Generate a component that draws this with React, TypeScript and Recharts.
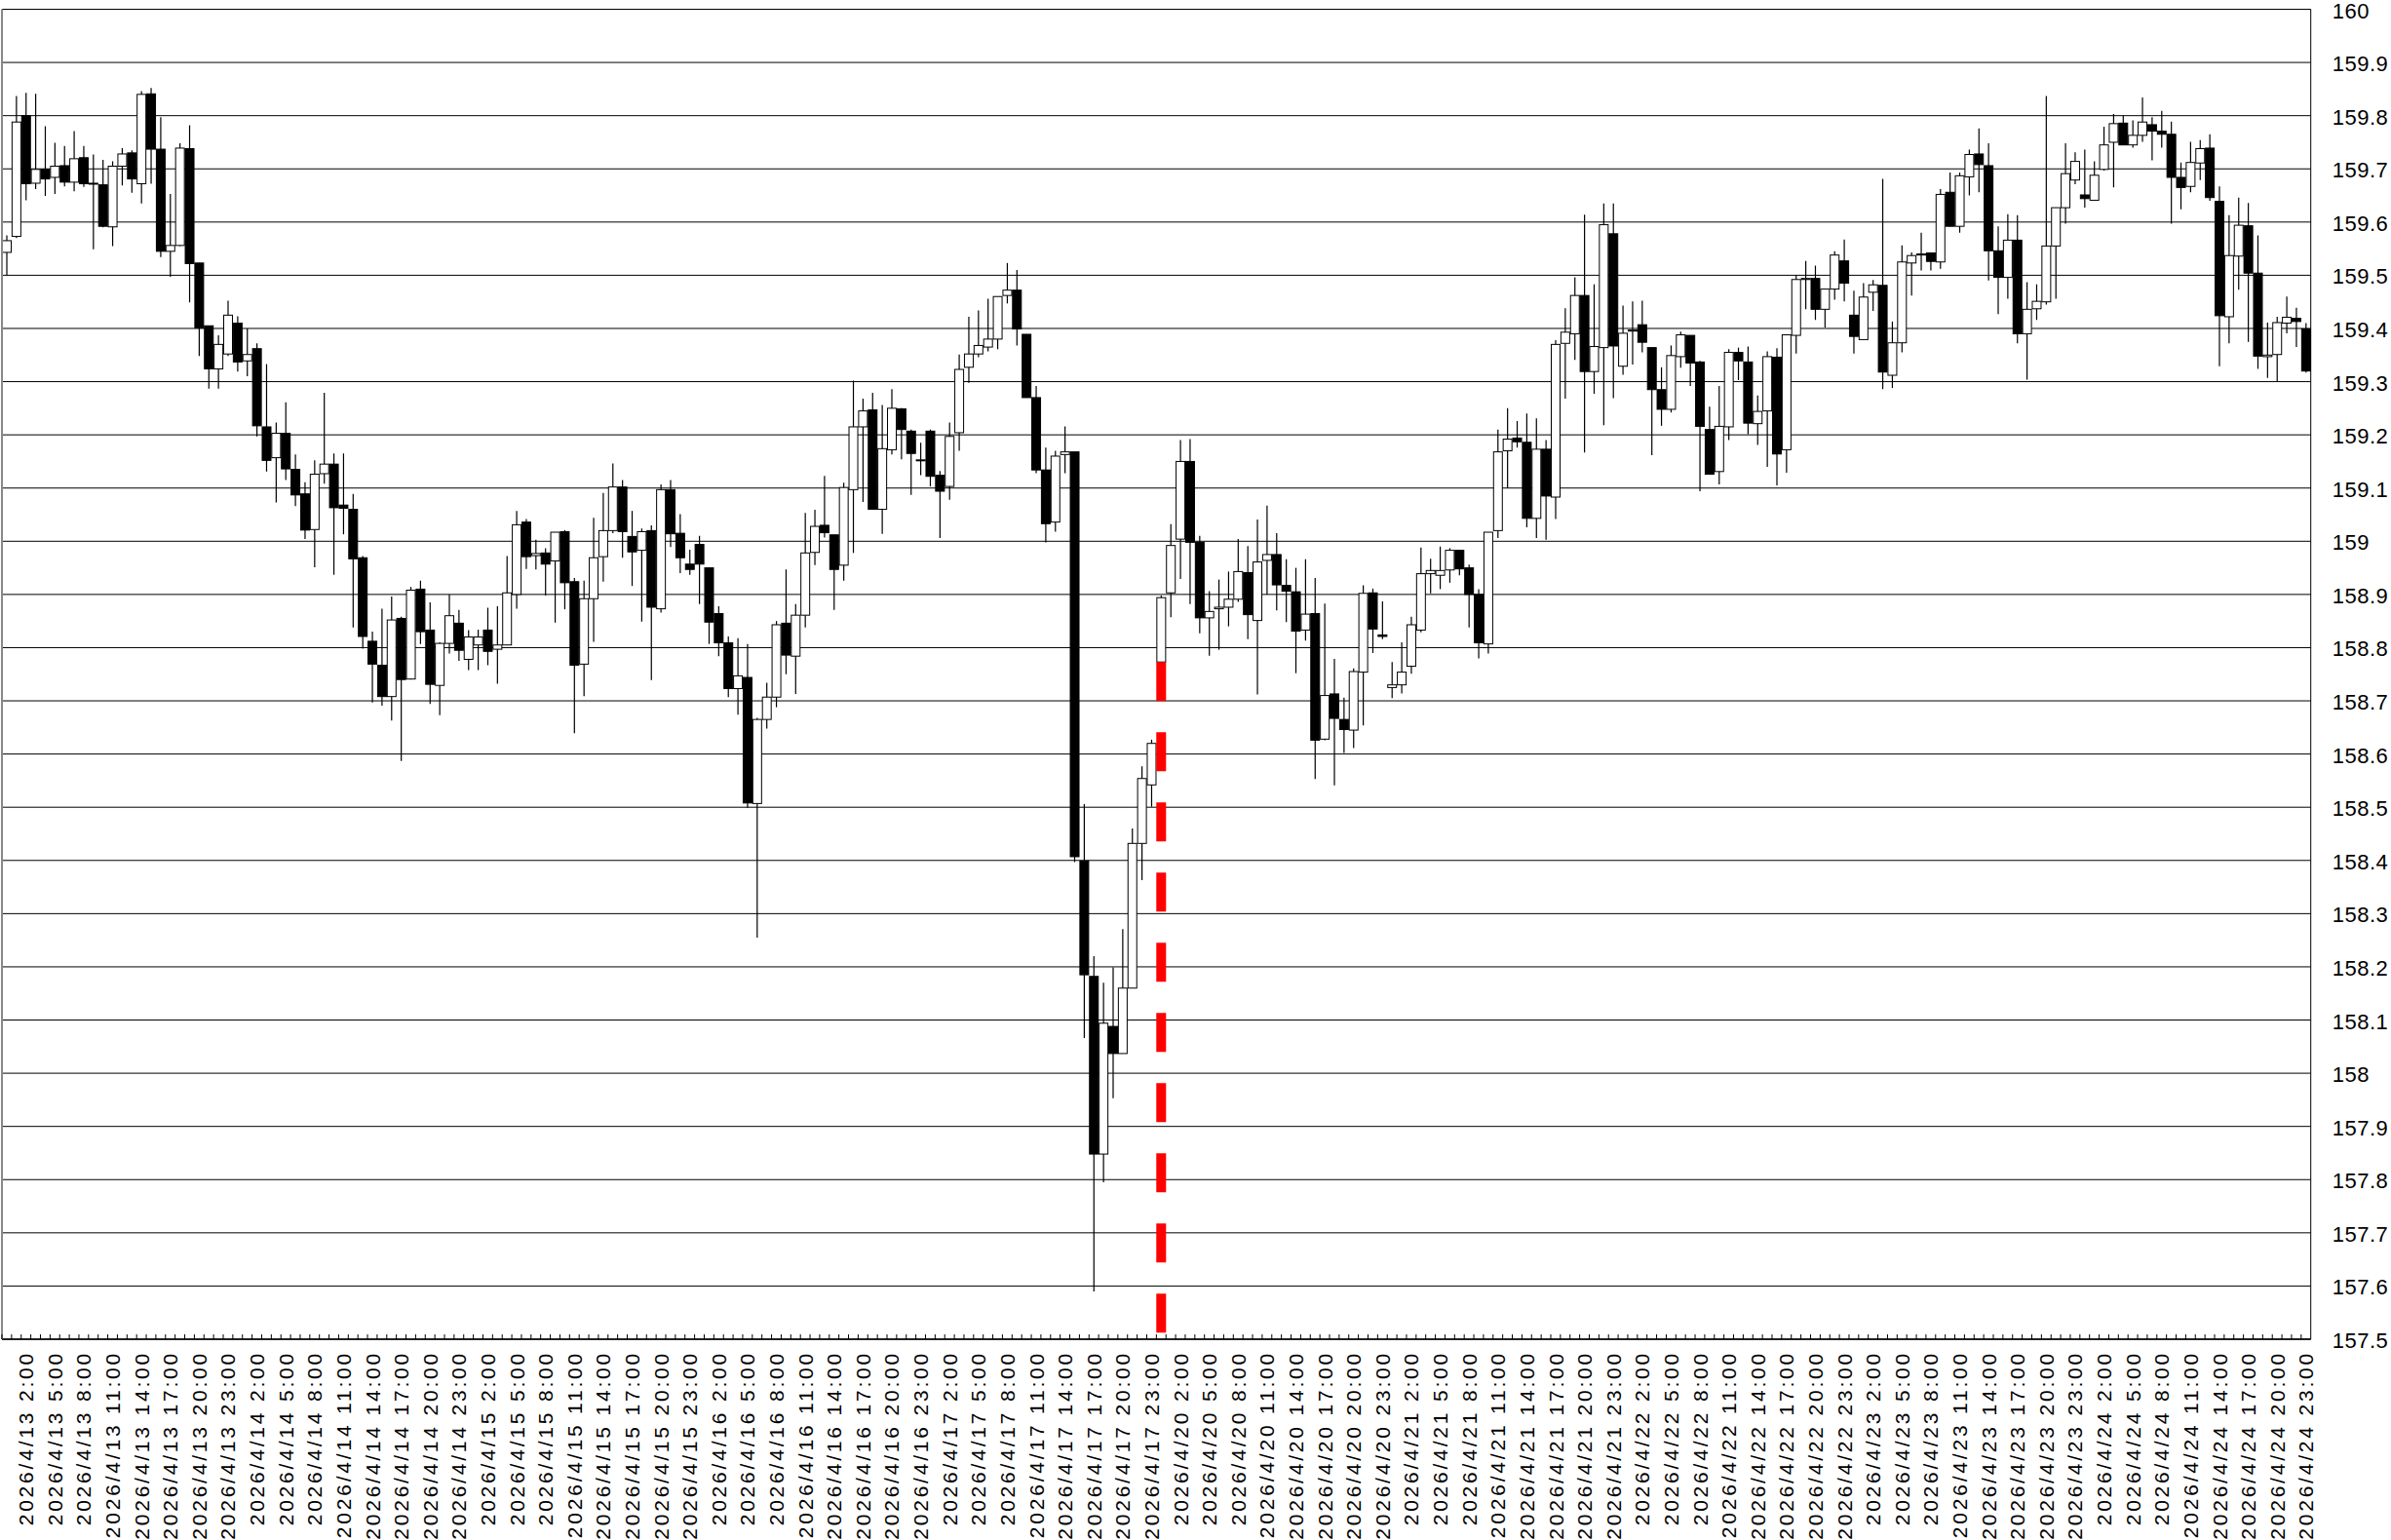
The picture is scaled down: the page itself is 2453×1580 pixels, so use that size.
import { ComposedChart, Bar, XAxis, YAxis, CartesianGrid, ReferenceLine } from "recharts";

const DAYS = ["4/13", "4/14", "4/15", "4/16", "4/17", "4/20", "4/21", "4/22", "4/23", "4/24"];

// hourly OHLC, one line per day (24 candles)
const OPEN = [
  159.543, 159.573, 159.800, 159.673, 159.699, 159.684, 159.706, 159.675, 159.721, 159.673, 159.670, 159.591, 159.705, 159.730, 159.672, 159.841, 159.737, 159.545, 159.556, 159.738, 159.523, 159.405, 159.324, 159.352,
  159.410, 159.339, 159.362, 159.215, 159.157, 159.203, 159.135, 159.089, 159.022, 159.127, 159.145, 159.068, 159.060, 158.969, 158.812, 158.767, 158.708, 158.855, 158.741, 158.910, 158.833, 158.729, 158.808, 158.846,
  158.778, 158.805, 158.833, 158.797, 158.805, 158.900, 159.036, 158.973, 158.978, 158.963, 159.018, 158.924, 158.769, 158.892, 158.971, 159.020, 159.102, 159.009, 158.983, 159.020, 158.873, 159.097, 159.015, 158.957,
  158.994, 158.950, 158.864, 158.809, 158.723, 158.744, 158.507, 158.665, 158.707, 158.846, 158.784, 158.861, 158.979, 159.030, 159.012, 158.955, 159.097, 159.215, 159.247, 159.060, 159.172, 159.249, 159.207, 159.153,
  159.207, 159.124, 159.103, 159.204, 159.327, 159.352, 159.365, 159.380, 159.462, 159.472, 159.389, 159.270, 159.134, 159.036, 159.163, 159.168, 158.399, 158.182, 157.848, 158.088, 158.037, 158.160, 158.432, 158.542,
  158.773, 158.903, 159.004, 159.150, 158.998, 158.856, 158.873, 158.876, 158.891, 158.941, 158.851, 158.964, 158.975, 158.917, 158.905, 158.833, 158.864, 158.628, 158.713, 158.665, 158.645, 158.754, 158.903, 158.824,
  158.725, 158.730, 158.765, 158.833, 158.939, 158.936, 158.946, 158.983, 158.950, 158.900, 158.807, 159.020, 159.170, 159.194, 159.186, 159.043, 159.173, 159.083, 159.372, 159.390, 159.462, 159.319, 159.364, 159.578,
  159.329, 159.395, 159.407, 159.364, 159.285, 159.248, 159.347, 159.387, 159.337, 159.210, 159.131, 159.215, 159.355, 159.337, 159.221, 159.245, 159.346, 159.172, 159.387, 159.492, 159.494, 159.436, 159.474, 159.527,
  159.425, 159.379, 159.468, 159.481, 159.312, 159.373, 159.523, 159.538, 159.542, 159.525, 159.656, 159.592, 159.685, 159.728, 159.706, 159.546, 159.496, 159.566, 159.390, 159.437, 159.450, 159.555, 159.627, 159.679,
  159.651, 159.641, 159.699, 159.750, 159.786, 159.745, 159.763, 159.783, 159.771, 159.765, 159.684, 159.667, 159.711, 159.739, 159.639, 159.422, 159.536, 159.593, 159.504, 159.347, 159.351, 159.410, 159.419, 159.399,
];

const HIGH = [
  159.575, 159.837, 159.843, 159.841, 159.780, 159.749, 159.743, 159.771, 159.743, 159.727, 159.717, 159.714, 159.739, 159.735, 159.846, 159.852, 159.797, 159.653, 159.748, 159.782, 159.523, 159.405, 159.387, 159.452,
  159.423, 159.400, 159.372, 159.333, 159.223, 159.261, 159.163, 159.111, 159.152, 159.279, 159.165, 159.165, 159.089, 158.972, 158.830, 158.873, 158.896, 158.858, 158.914, 158.926, 158.885, 158.810, 158.900, 158.871,
  158.833, 158.834, 158.875, 158.878, 158.972, 159.057, 159.042, 159.003, 158.987, 159.017, 159.021, 158.931, 158.926, 159.044, 159.091, 159.146, 159.115, 159.057, 159.024, 159.030, 159.107, 159.115, 159.051, 158.984,
  159.010, 158.950, 158.878, 158.821, 158.818, 158.807, 158.668, 158.734, 158.850, 158.947, 158.882, 159.053, 159.059, 159.123, 159.012, 159.110, 159.302, 159.268, 159.279, 159.256, 159.286, 159.250, 159.210, 159.185,
  159.210, 159.132, 159.223, 159.351, 159.422, 159.434, 159.456, 159.460, 159.523, 159.510, 159.389, 159.292, 159.176, 159.170, 159.216, 159.168, 158.506, 158.220, 158.170, 158.199, 158.271, 158.460, 158.577, 158.627,
  158.898, 159.032, 159.190, 159.192, 159.010, 158.906, 158.928, 158.943, 159.004, 158.991, 159.041, 159.067, 159.015, 158.966, 158.950, 158.966, 158.931, 158.883, 158.779, 158.706, 158.761, 158.917, 158.911, 158.887,
  158.773, 158.810, 158.858, 158.988, 158.967, 158.990, 158.987, 158.983, 158.956, 158.910, 159.017, 159.210, 159.250, 159.226, 159.240, 159.231, 159.190, 159.378, 159.438, 159.496, 159.614, 159.483, 159.635, 159.635,
  159.443, 159.451, 159.452, 159.364, 159.327, 159.368, 159.394, 159.387, 159.339, 159.253, 159.292, 159.361, 159.364, 159.366, 159.274, 159.357, 159.363, 159.388, 159.500, 159.527, 159.518, 159.474, 159.545, 159.567,
  159.471, 159.485, 159.491, 159.681, 159.413, 159.556, 159.543, 159.580, 159.542, 159.662, 159.693, 159.693, 159.736, 159.776, 159.748, 159.592, 159.615, 159.613, 159.487, 159.483, 159.837, 159.627, 159.748, 159.731,
  159.736, 159.714, 159.779, 159.803, 159.800, 159.791, 159.834, 159.797, 159.809, 159.789, 159.712, 159.751, 159.754, 159.765, 159.667, 159.613, 159.646, 159.636, 159.575, 159.411, 159.422, 159.460, 159.439, 159.410,
];

const LOW = [
  159.500, 159.570, 159.641, 159.662, 159.649, 159.653, 159.667, 159.658, 159.666, 159.549, 159.590, 159.555, 159.669, 159.655, 159.635, 159.672, 159.534, 159.497, 159.555, 159.449, 159.348, 159.287, 159.287, 159.348,
  159.319, 159.310, 159.197, 159.131, 159.073, 159.115, 159.066, 159.004, 158.951, 159.108, 158.937, 159.013, 158.838, 158.798, 158.697, 158.691, 158.663, 158.587, 158.740, 158.807, 158.694, 158.673, 158.789, 158.775,
  158.758, 158.758, 158.767, 158.732, 158.805, 158.873, 158.948, 158.947, 158.898, 158.847, 158.872, 158.639, 158.709, 158.811, 158.924, 159.015, 158.969, 158.916, 158.849, 158.739, 158.866, 158.989, 158.940, 158.937,
  158.882, 158.807, 158.784, 158.707, 158.674, 158.499, 158.255, 158.648, 158.688, 158.750, 158.713, 158.838, 158.955, 159.007, 158.871, 158.926, 158.978, 159.074, 159.060, 159.014, 159.163, 159.154, 159.087, 159.124,
  159.103, 159.006, 159.078, 159.170, 159.298, 159.346, 159.357, 159.361, 159.447, 159.368, 159.270, 159.128, 158.998, 159.018, 159.128, 158.397, 158.066, 157.590, 157.795, 157.953, 158.037, 158.160, 158.363, 158.501,
  158.773, 158.857, 158.929, 158.882, 158.827, 158.785, 158.796, 158.840, 158.886, 158.816, 158.712, 158.900, 158.870, 158.848, 158.752, 158.813, 158.553, 158.626, 158.541, 158.602, 158.611, 158.654, 158.790, 158.816,
  158.705, 158.714, 158.751, 158.829, 158.902, 158.910, 158.922, 158.936, 158.838, 158.780, 158.789, 159.006, 159.100, 159.176, 159.026, 159.006, 159.003, 159.042, 159.268, 159.341, 159.167, 159.277, 159.218, 159.269,
  159.313, 159.332, 159.355, 159.162, 159.217, 159.242, 159.326, 159.292, 159.094, 159.126, 159.107, 159.190, 159.303, 159.201, 159.181, 159.140, 159.105, 159.129, 159.353, 159.436, 159.416, 159.402, 159.454, 159.451,
  159.353, 159.379, 159.433, 159.286, 159.288, 159.355, 159.462, 159.509, 159.509, 159.512, 159.592, 159.580, 159.650, 159.656, 159.490, 159.427, 159.456, 159.372, 159.304, 159.416, 159.445, 159.456, 159.597, 159.671,
  159.627, 159.641, 159.697, 159.665, 159.745, 159.740, 159.751, 159.716, 159.740, 159.597, 159.624, 159.656, 159.679, 159.640, 159.329, 159.372, 159.473, 159.375, 159.324, 159.307, 159.301, 159.391, 159.365, 159.317,
];

const CLOSE = [
  159.565, 159.788, 159.672, 159.699, 159.681, 159.705, 159.675, 159.719, 159.672, 159.673, 159.592, 159.705, 159.728, 159.681, 159.840, 159.737, 159.545, 159.556, 159.739, 159.522, 159.401, 159.324, 159.370, 159.425,
  159.337, 159.351, 159.217, 159.152, 159.203, 159.136, 159.087, 159.021, 159.126, 159.145, 159.063, 159.062, 158.967, 158.821, 158.769, 158.708, 158.852, 158.740, 158.908, 158.830, 158.731, 158.808, 158.860, 158.795,
  158.820, 158.820, 158.793, 158.805, 158.903, 159.031, 158.971, 158.977, 158.957, 159.017, 158.922, 158.767, 158.892, 158.969, 159.020, 159.102, 159.018, 158.980, 159.018, 158.876, 159.097, 159.014, 158.969, 158.947,
  158.957, 158.848, 158.809, 158.723, 158.747, 158.508, 158.665, 158.707, 158.843, 158.786, 158.861, 158.978, 159.028, 159.016, 158.947, 159.101, 159.215, 159.245, 159.060, 159.174, 159.250, 159.210, 159.165, 159.153,
  159.122, 159.094, 159.197, 159.323, 159.352, 159.368, 159.380, 159.460, 159.472, 159.399, 159.270, 159.134, 159.033, 159.160, 159.168, 158.407, 158.185, 157.848, 158.094, 158.037, 158.160, 158.432, 158.554, 158.620,
  158.894, 158.992, 159.150, 158.998, 158.856, 158.868, 158.876, 158.891, 158.943, 158.862, 158.961, 158.975, 158.918, 158.906, 158.831, 158.863, 158.626, 158.710, 158.667, 158.646, 158.755, 158.902, 158.835, 158.821,
  158.730, 158.754, 158.843, 158.939, 158.945, 158.945, 158.983, 158.948, 158.900, 158.809, 159.017, 159.168, 159.192, 159.187, 159.043, 159.173, 159.085, 159.370, 159.393, 159.462, 159.319, 159.366, 159.595, 159.367,
  159.391, 159.397, 159.374, 159.285, 159.248, 159.349, 159.388, 159.335, 159.216, 159.126, 159.216, 159.355, 159.339, 159.222, 159.244, 159.347, 159.164, 159.388, 159.492, 159.494, 159.436, 159.474, 159.538, 159.485,
  159.385, 159.459, 159.482, 159.318, 159.373, 159.525, 159.537, 159.540, 159.526, 159.652, 159.592, 159.687, 159.727, 159.708, 159.546, 159.496, 159.566, 159.390, 159.436, 159.451, 159.555, 159.627, 159.691, 159.714,
  159.644, 159.688, 159.745, 159.785, 159.745, 159.763, 159.788, 159.771, 159.765, 159.684, 159.665, 159.712, 159.738, 159.646, 159.424, 159.537, 159.594, 159.504, 159.348, 159.350, 159.411, 159.421, 159.413, 159.320,
];

const Y_TICKS = [
  157.5, 157.6, 157.7, 157.8, 157.9, 158, 158.1, 158.2, 158.3, 158.4, 158.5, 158.6, 158.7,
  158.8, 158.9, 159, 159.1, 159.2, 159.3, 159.4, 159.5, 159.6, 159.7, 159.8, 159.9, 160,
];

const WEEK_START = 120; // first candle of the second week (red marker)

const W = 2453;
const H = 1580;
const RIGHT_AXIS_W = 82.3;
const LEFT_AXIS_W = 2;
const X_AXIS_H = 206;
const BAND = (W - RIGHT_AXIS_W - LEFT_AXIS_W) / OPEN.length;
const FONT = '"Liberation Sans", Arial, sans-serif';

const data = OPEN.map((open, i) => ({
  t: `2026/${DAYS[Math.floor(i / 24)]} ${i % 24}:00`,
  open,
  high: HIGH[i],
  low: LOW[i],
  close: CLOSE[i],
}));

const Candle = (props: any) => {
  const { x, y, width, height, payload } = props;
  const { open, close, high, low } = payload;
  const top = Math.min(y, y + height);
  const h = Math.abs(height);
  const span = high - low || 1;
  const py = (v: number) => top + ((high - v) / span) * h;
  const cx = x + width / 2;
  const bodyTop = py(Math.max(open, close));
  const bodyBot = py(Math.min(open, close));
  return (
    <g>
      <line x1={cx} x2={cx} y1={top} y2={top + h} stroke="#000" strokeWidth={1.2} />
      <rect
        x={x + 0.5}
        y={bodyTop}
        width={width - 1}
        height={Math.max(bodyBot - bodyTop, 1)}
        fill={close >= open ? "#fff" : "#000"}
        stroke="#000"
        strokeWidth={1}
      />
    </g>
  );
};

const XTick = (props: any) => {
  const { x, y, payload, index } = props;
  const idx = payload?.index ?? index;
  const left = x - BAND / 2;
  return (
    <g>
      <line x1={left} x2={left} y1={y} y2={y - 5} stroke="#000" strokeWidth={1} />
      {idx % 3 === 2 && (
        <text
          transform={`translate(${x}, ${y + 12}) rotate(-90)`}
          textAnchor="end"
          dy="0.36em"
          fontSize={21}
          letterSpacing={2.8}
          fontFamily={FONT}
          fill="#000"
        >
          {payload.value}
        </text>
      )}
    </g>
  );
};

const YTick = (props: any) => {
  const { x, y, payload } = props;
  return (
    <text x={x + 22} y={y + 9} fontSize={22} letterSpacing={0.5} fontFamily={FONT} fill="#000">
      {String(Number(payload.value.toFixed(1)))}
    </text>
  );
};

export default function App() {
  return (
    <div style={{ position: "absolute", left: 0, top: 0, width: W, height: H, background: "#fff" }}>
      <ComposedChart
        width={W}
        height={H}
        data={data}
        margin={{ top: 9.5, right: 0, bottom: 0, left: 0 }}
        barCategoryGap={0}
        barGap={0}
      >
        <CartesianGrid vertical={false} stroke="#000" strokeWidth={1} />
        <XAxis
          dataKey="t"
          type="category"
          interval={0}
          height={X_AXIS_H}
          tickSize={0}
          tickMargin={0}
          tickLine={false}
          axisLine={{ stroke: "#000", strokeWidth: 1.5 }}
          tick={<XTick />}
        />
        <YAxis
          orientation="right"
          type="number"
          domain={[157.5, 160]}
          ticks={Y_TICKS}
          allowDataOverflow
          width={RIGHT_AXIS_W}
          tickSize={0}
          tickMargin={0}
          tickLine={false}
          axisLine={{ stroke: "#000", strokeWidth: 1 }}
          tick={<YTick />}
        />
        <YAxis
          yAxisId="left"
          orientation="left"
          type="number"
          domain={[157.5, 160]}
          width={LEFT_AXIS_W}
          tick={false}
          tickLine={false}
          axisLine={{ stroke: "#888", strokeWidth: 2 }}
        />
        <ReferenceLine
          segment={[
            { x: data[WEEK_START].t, y: OPEN[WEEK_START] },
            { x: data[WEEK_START].t, y: 157.5 },
          ]}
          stroke="#ff0000"
          strokeWidth={10}
          strokeDasharray="40 32"
        />
        <Bar
          dataKey={(d: any) => [d.low, d.high]}
          shape={<Candle />}
          isAnimationActive={false}
        />
      </ComposedChart>
    </div>
  );
}
